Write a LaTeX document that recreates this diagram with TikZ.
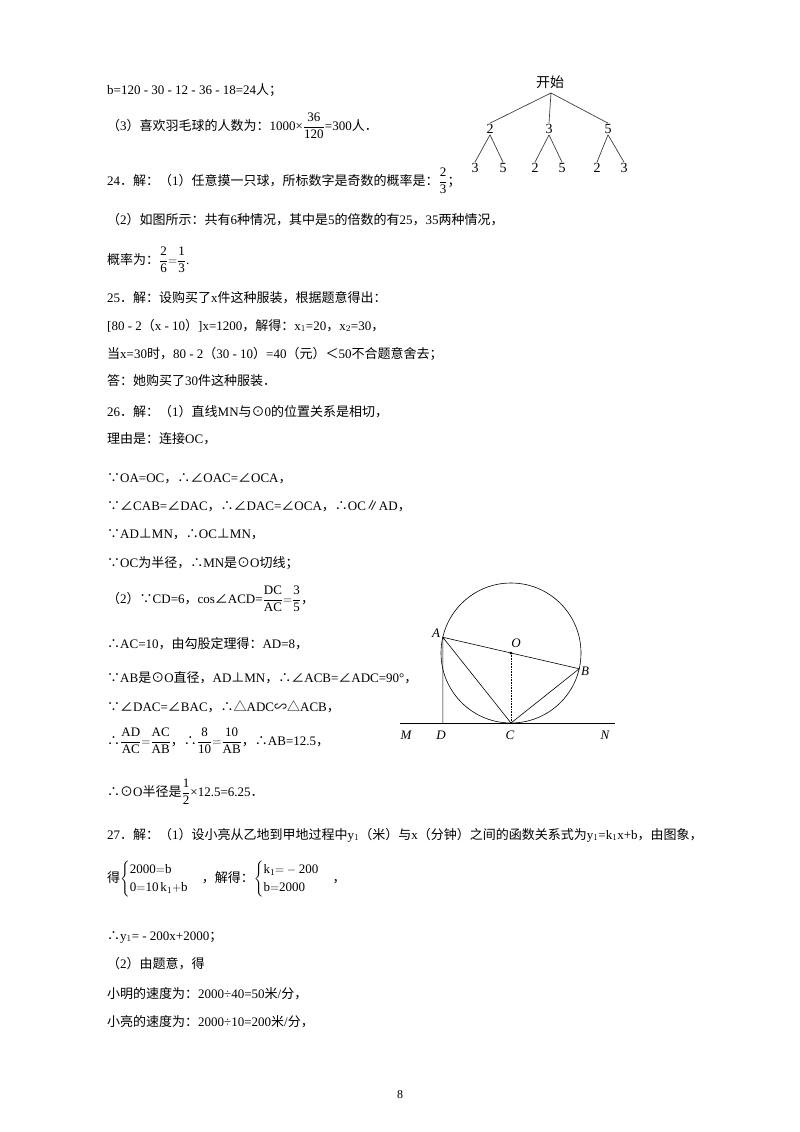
\documentclass[tikz,border=0pt]{standalone}
\usetikzlibrary{calc}
\usepackage{amsmath}
\usepackage{fontspec}
\setmainfont{Liberation Serif}
\newfontfamily\cjk{Noto Sans CJK SC}
\XeTeXinterchartokenstate=1
\newXeTeXintercharclass\CJKcls
\def\setcls#1#2{\count255=#1 \loop\XeTeXcharclass\count255=\CJKcls\relax\ifnum\count255<#2 \advance\count255 1 \repeat}
\setcls{"4E00}{"9FFF}
\setcls{"3000}{"303F}
\setcls{"FF00}{"FFEF}
\XeTeXcharclass"2235=\CJKcls \XeTeXcharclass"2234=\CJKcls \XeTeXcharclass"2220=\CJKcls
\XeTeXcharclass"22A5=\CJKcls \XeTeXcharclass"2225=\CJKcls \XeTeXcharclass"2299=\CJKcls
\XeTeXcharclass"25B3=\CJKcls \XeTeXcharclass"223D=\CJKcls
\XeTeXinterchartoks 0 \CJKcls = {\begingroup\cjk}
\XeTeXinterchartoks 4095 \CJKcls = {\begingroup\cjk}
\XeTeXinterchartoks \CJKcls 0 = {\endgroup}
\XeTeXinterchartoks \CJKcls 4095 = {\endgroup}
\newcommand\fr[2]{\dfrac{\mathrm{#1}}{\mathrm{#2}}}
\begin{document}
\begin{tikzpicture}[x=1pt,y=1pt,
  ln/.style={anchor=base west,inner sep=0pt,font=\fontsize{13}{15}\selectfont},
  lbl/.style={inner sep=0pt,font=\fontsize{13}{15}\selectfont\itshape},
  tn/.style={inner sep=1pt,font=\fontsize{14}{16}\selectfont},
  ed/.style={line width=0.7pt,black!75}]
\useasboundingbox[fill=white] (0,0) rectangle (800,-1132);
\def\L#1#2#3{\node[ln] (#1) at (107,-#2-5) {#3};}
\L{l1}{90}{b=120 - 30 - 12 - 36 - 18=24人；}
\L{l2}{125}{（3）喜欢羽毛球的人数为：1000×$\fr{36}{120}$=300人．}
\L{l3}{180}{24．解：（1）任意摸一只球，所标数字是奇数的概率是：$\fr{2}{3}$；}
\L{l4}{219}{（2）如图所示：共有6种情况，其中是5的倍数的有25，35两种情况，}
\L{l5}{259}{概率为：$\fr{2}{6}{=}\fr{1}{3}$.}
\L{l6}{297}{25．解：设购买了x件这种服装，根据题意得出：}
\L{l7}{325}{[80 - 2（x - 10）]x=1200，解得：x$_1$=20，x$_2$=30，}
\L{l8}{353}{当x=30时，80 - 2（30 - 10）=40（元）＜50不合题意舍去；}
\L{l9}{380}{答：她购买了30件这种服装．}
\L{l10}{411}{26．解：（1）直线MN与⊙0的位置关系是相切，}
\L{l11}{438}{理由是：连接OC，}
\L{l12}{477}{∵OA=OC，∴∠OAC=∠OCA，}
\L{l13}{505}{∵∠CAB=∠DAC，∴∠DAC=∠OCA，∴OC∥AD，}
\L{l14}{533}{∵AD⊥MN，∴OC⊥MN，}
\L{l15}{562}{∵OC为半径，∴MN是⊙O切线；}
\L{l16}{598}{（2）∵CD=6，cos∠ACD=$\fr{DC}{AC}{=}\fr{3}{5}$，}
\L{l17}{643}{∴AC=10，由勾股定理得：AD=8，}
\L{l18}{677}{∵AB是⊙O直径，AD⊥MN，∴∠ACB=∠ADC=90°，}
\L{l19}{706}{∵∠DAC=∠BAC，∴△ADC∽△ACB，}
\L{l20}{740}{∴$\fr{AD}{AC}{=}\fr{AC}{AB}$，∴$\fr{8}{10}{=}\fr{10}{AB}$，∴AB=12.5，}
\L{l21}{791}{∴⊙O半径是$\fr{1}{2}$×12.5=6.25．}
\L{l22}{834}{27．解：（1）设小亮从乙地到甲地过程中y$_1$（米）与x（分钟）之间的函数关系式为y$_1$=k$_1$x+b，由图象，}
\L{l23}{877}{得$\begin{cases}\mathrm{2000{=}b}\\ \mathrm{0{=}10\,k_1{+}b}\end{cases}$，解得：$\begin{cases}\mathrm{k_1{=}-200}\\ \mathrm{b{=}2000}\end{cases}$，}
\L{l24}{935}{∴y$_1$= - 200x+2000；}
\L{l25}{963}{（2）由题意，得}
\L{l26}{993}{小明的速度为：2000÷40=50米/分，}
\L{l27}{1021}{小亮的速度为：2000÷10=200米/分，}
\node[inner sep=0pt,font=\fontsize{12}{14}\selectfont] (pg) at (400,-1095) {8};
% tree
\node[tn] (st) at (550,-82) {开始};
\node[tn] (a2) at (490,-129) {2};
\node[tn] (a3) at (549,-129) {3};
\node[tn] (a5) at (608,-129) {5};
\node[tn] (b1) at (475,-168) {3};
\node[tn] (b2) at (503,-168) {5};
\node[tn] (b3) at (535,-168) {2};
\node[tn] (b4) at (562,-168) {5};
\node[tn] (b5) at (597,-168) {2};
\node[tn] (b6) at (624,-168) {3};
\coordinate (sb) at (551,-93);
\draw[ed] (sb) -- (a2.north) (sb) -- (a3.north) (sb) -- (a5.north);
\foreach \p/\c in {a2/b1,a2/b2,a3/b3,a3/b4,a5/b5,a5/b6} \draw[ed] (\p.south) -- (\c.north);
% geometry
\coordinate (O) at (511,-653);
\coordinate (A) at ($(O)+(167:70)$);
\coordinate (B) at ($(O)+(-13:70)$);
\coordinate (C) at (511,-723);
\coordinate (D) at (A|-C);
\coordinate (M) at (400,-723);
\coordinate (N) at (615,-723);
\draw[line width=0.6pt] (O) circle (70);
\draw[line width=0.6pt] (M) -- (N);
\draw[line width=0.6pt] (A) -- (B) -- (C) -- (A) -- (D);
\draw[line width=0.6pt,densely dotted] (O) -- (C);
\fill (O) circle (1.5);
\node[lbl] (lA) at (436,-633) {A};
\node[lbl] (lO) at (516,-643) {O};
\node[lbl] (lB) at (585,-671) {B};
\node[lbl] (lM) at (406,-735) {M};
\node[lbl] (lD) at (441,-735) {D};
\node[lbl] (lC) at (510,-735) {C};
\node[lbl] (lN) at (605,-735) {N};
\end{tikzpicture}
\end{document}
